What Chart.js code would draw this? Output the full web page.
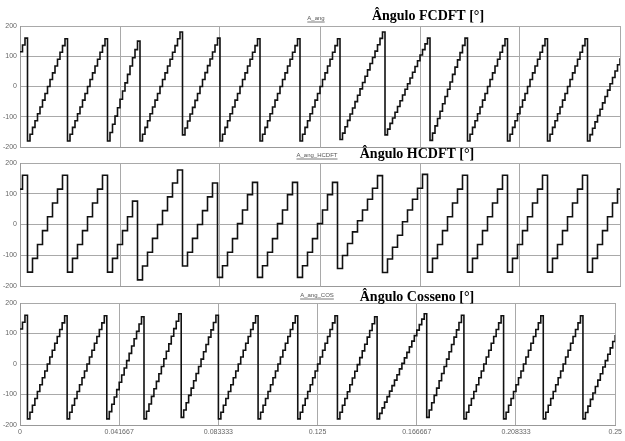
<!DOCTYPE html>
<html>
<head>
<meta charset="utf-8">
<script src="https://cdn.jsdelivr.net/npm/chart.js@4"></script>
<style>
html, body { margin: 0; padding: 0; background: #fff; }
#wrap { position: relative; width: 625px; height: 441px; overflow: hidden; }
#wrap canvas { position: absolute; left: 0; top: 0; }
</style>
</head>
<body>
<div id="wrap">
  <canvas id="fcdft" width="625" height="441"></canvas>
  <canvas id="hcdft" width="625" height="441"></canvas>
  <canvas id="cosseno" width="625" height="441"></canvas>
</div>
<script>
// Sample rate of the angle estimates (Hz); x axis is time in seconds
const sampleRate = 960;

const xTicks = [0, 0.041667, 0.083333, 0.125, 0.166667, 0.208333, 0.25];
const xTickLabels = ['0', '0.041667', '0.083333', '0.125', '0.166667', '0.208333', '0.25'];
const yTicks = [-200, -100, 0, 100, 200];

// Ângulo FCDFT [°]
const fcdftDeg = [
  115, 137, 160,
  -180, -158, -135, -113, -90, -68, -45, -23, 0, 23, 45, 68, 90, 113, 135, 158,
  -180, -158, -135, -113, -90, -68, -45, -23, 0, 23, 45, 68, 90, 113, 135, 158,
  -180, -152, -125, -98, -70, -42, -15, 12, 40, 68, 95, 122, 150,
  -180, -158, -135, -113, -90, -68, -45, -23, 0, 23, 45, 68, 90, 113, 135, 158, 180,
  -160, -137, -114, -91, -69, -46, -23, 0, 23, 46, 69, 91, 114, 137, 160,
  -180, -158, -135, -113, -90, -68, -45, -23, 0, 23, 45, 68, 90, 113, 135, 158,
  -180, -158, -135, -113, -90, -68, -45, -23, 0, 23, 45, 68, 90, 113, 135, 158,
  -180, -158, -135, -113, -90, -68, -45, -23, 0, 23, 45, 68, 90, 113, 135, 158,
  -175, -154, -133, -112, -91, -71, -50, -29, -8, 13, 34, 55, 76, 96, 117, 138, 159, 180,
  -160, -141, -122, -104, -85, -66, -47, -28, -9, 9, 28, 47, 66, 85, 104, 122, 141, 160,
  -178, -154, -130, -106, -82, -57, -33, -9, 15, 40, 64, 88, 112, 136, 160,
  -180, -158, -135, -113, -90, -68, -45, -23, 0, 23, 45, 68, 90, 113, 135, 158,
  -180, -158, -135, -113, -90, -68, -45, -23, 0, 23, 45, 68, 90, 113, 135, 158,
  -180, -158, -135, -113, -90, -68, -45, -23, 0, 23, 45, 68, 90, 113, 135, 158,
  -180, -159, -138, -117, -96, -75, -54, -33, -12, 9, 30, 51, 72, 93
];

// Ângulo HCDFT [°]
const hcdftDeg = [
  115, 160, 160,
  -155, -155, -110, -110, -65, -65, -20, -20, 25, 25, 70, 70, 115, 115, 160, 160,
  -155, -155, -110, -110, -65, -65, -20, -20, 25, 25, 70, 70, 115, 115, 160, 160,
  -155, -155, -110, -110, -65, -65, -20, -20, 25, 25, 76, 76,
  -180, -180, -135, -135, -90, -90, -45, -45, 0, 0, 45, 45, 90, 90, 135, 135, 177, 177,
  -135, -135, -90, -90, -45, -45, 0, 0, 45, 45, 90, 90, 135, 135,
  -172, -172, -134, -134, -90, -90, -46, -46, 3, 3, 47, 47, 97, 97, 137, 137,
  -172, -172, -134, -134, -90, -90, -46, -46, 3, 3, 47, 47, 97, 97, 137, 137,
  -172, -172, -134, -134, -90, -90, -46, -46, 3, 3, 47, 47, 97, 97, 137, 137,
  -143, -143, -101, -101, -62, -62, -24, -24, 12, 12, 47, 47, 82, 82, 118, 118, 159, 159,
  -156, -156, -112, -112, -74, -74, -35, -35, 9, 9, 47, 47, 82, 82, 118, 118, 163, 163,
  -155, -155, -110, -110, -65, -65, -20, -20, 25, 25, 70, 70, 115, 115, 160, 160,
  -155, -155, -110, -110, -65, -65, -20, -20, 25, 25, 70, 70, 115, 115, 160, 160,
  -155, -155, -110, -110, -65, -65, -20, -20, 25, 25, 70, 70, 115, 115, 160, 160,
  -155, -155, -110, -110, -65, -65, -20, -20, 25, 25, 70, 70, 115, 115, 160, 160,
  -155, -155, -110, -110, -65, -65, -20, -20, 25, 25, 70, 70, 115, 115
];

// Ângulo Cosseno [°]
const cosDeg = [
  115, 137, 160,
  -180, -158, -135, -113, -90, -68, -45, -23, 0, 23, 45, 68, 90, 113, 135, 158,
  -180, -158, -135, -113, -90, -68, -45, -23, 0, 23, 45, 68, 90, 113, 135, 158,
  -180, -156, -132, -108, -84, -60, -36, -13, 11, 35, 59, 83, 107, 131, 155,
  -180, -155, -131, -106, -81, -57, -32, -8, 17, 42, 66, 91, 116, 140, 165,
  -175, -151, -127, -103, -79, -55, -31, -8, 16, 40, 64, 88, 112, 136, 160,
  -180, -158, -135, -113, -90, -68, -45, -23, 0, 23, 45, 68, 90, 113, 135, 158,
  -180, -158, -135, -113, -90, -68, -45, -23, 0, 23, 45, 68, 90, 113, 135, 158,
  -180, -158, -135, -113, -90, -68, -45, -23, 0, 23, 45, 68, 90, 113, 135, 158,
  -180, -158, -135, -113, -91, -68, -46, -24, -2, 21, 43, 65, 88, 110, 132, 155,
  -180, -162, -144, -125, -107, -89, -71, -53, -35, -16, 2, 20, 38, 56, 75, 93, 111, 129, 147, 165,
  -175, -151, -127, -103, -79, -55, -31, -8, 16, 40, 64, 88, 112, 136, 160,
  -180, -158, -135, -113, -90, -68, -45, -23, 0, 23, 45, 68, 90, 113, 135, 158,
  -180, -158, -135, -113, -90, -68, -45, -23, 0, 23, 45, 68, 90, 113, 135, 158,
  -180, -158, -135, -113, -90, -68, -45, -23, 0, 23, 45, 68, 90, 113, 135, 158,
  -180, -159, -138, -116, -95, -74, -53, -32, -10, 11, 32, 53, 74, 95
];

const tickFont = { family: '"Liberation Sans", Arial, sans-serif', size: 7 };
const tickColor = '#666';
const gridColor = '#a9a9a9';

// Draws the bold panel title and the small underlined signal tag
const panelTitle = {
  id: 'panelTitle',
  afterDraw(chart, args, o) {
    const ctx = chart.ctx;
    ctx.save();
    ctx.textAlign = 'center';
    ctx.textBaseline = 'alphabetic';
    ctx.fillStyle = '#000';
    ctx.font = 'bold 14px "Liberation Serif", "Times New Roman", serif';
    ctx.fillText(o.text, o.x, o.y);

    ctx.font = '6px "Liberation Sans", Arial, sans-serif';
    ctx.fillStyle = '#555';
    ctx.fillText(o.tag, o.tagX, o.tagY);
    const w = ctx.measureText(o.tag).width;
    ctx.strokeStyle = '#555';
    ctx.lineWidth = 0.8;
    ctx.beginPath();
    ctx.moveTo(o.tagX - w / 2, o.tagY + 2);
    ctx.lineTo(o.tagX + w / 2, o.tagY + 2);
    ctx.stroke();
    ctx.restore();
  }
};

function makePanel(id, values, p) {
  return new Chart(document.getElementById(id), {
    type: 'line',
    data: {
      datasets: [{
        data: values.map((v, i) => ({ x: i / sampleRate, y: v })),
        borderColor: '#111',
        borderWidth: 1.6,
        stepped: true,
        pointRadius: 0,
        fill: false
      }]
    },
    options: {
      responsive: false,
      animation: false,
      layout: { padding: { top: p.top, bottom: p.bottom, left: 0, right: 5 } },
      plugins: {
        legend: { display: false },
        tooltip: { enabled: false },
        panelTitle: p.title
      },
      scales: {
        x: {
          type: 'linear',
          min: 0,
          max: 0.25,
          afterBuildTicks: s => { s.ticks = xTicks.map(v => ({ value: v })); },
          afterFit: s => { s.height = p.xHeight; },
          ticks: {
            display: p.showX,
            autoSkip: false,
            maxRotation: 0,
            padding: 3,
            font: tickFont,
            color: tickColor,
            callback: (v, i) => xTickLabels[i]
          },
          grid: { color: gridColor, drawTicks: false },
          border: { color: '#999' }
        },
        y: {
          min: -200,
          max: 200,
          afterBuildTicks: s => { s.ticks = yTicks.map(v => ({ value: v })); },
          afterFit: s => { s.width = 20; },
          ticks: { font: tickFont, color: tickColor, padding: 3 },
          grid: { color: gridColor, drawTicks: false },
          border: { color: '#999' }
        }
      }
    },
    plugins: [panelTitle]
  });
}

makePanel('fcdft', fcdftDeg, {
  top: 26, bottom: 294, xHeight: 0, showX: false,
  title: { text: 'Ângulo FCDFT [°]', x: 428, y: 20, tag: 'A_ang', tagX: 316, tagY: 20 }
});
makePanel('hcdft', hcdftDeg, {
  top: 163, bottom: 155, xHeight: 0, showX: false,
  title: { text: 'Ângulo HCDFT [°]', x: 417, y: 158, tag: 'A_ang_HCDFT', tagX: 317, tagY: 157 }
});
makePanel('cosseno', cosDeg, {
  top: 303, bottom: 0, xHeight: 16, showX: true,
  title: { text: 'Ângulo Cosseno [°]', x: 417, y: 301, tag: 'A_ang_COS', tagX: 317, tagY: 297 }
});
</script>
</body>
</html>
